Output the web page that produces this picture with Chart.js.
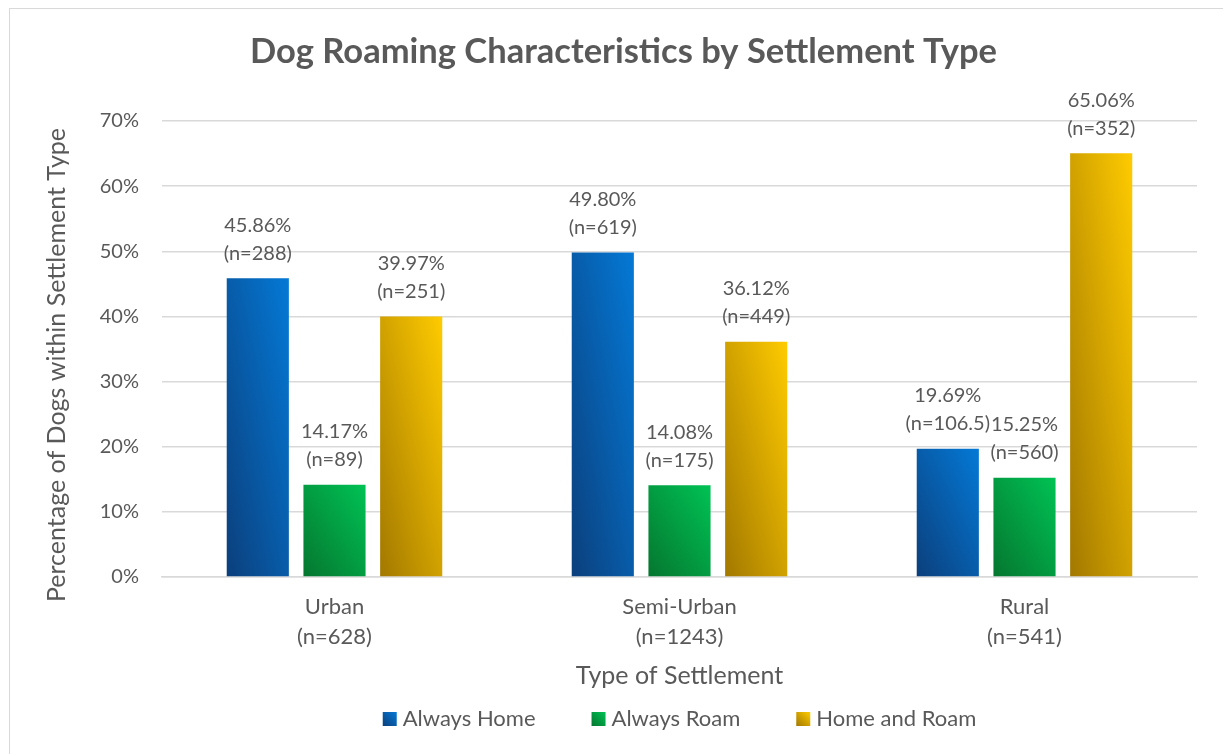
<!DOCTYPE html>
<html>
<head>
<meta charset="utf-8">
<script src="https://cdn.jsdelivr.net/npm/chart.js@4/dist/chart.umd.min.js"></script>
<style>
  html, body { margin: 0; padding: 0; background: #fff; overflow: hidden; }
  #wrap { position: relative; width: 1223px; height: 754px; }
  #frame { position: absolute; left: 9px; top: 8px; width: 1240px; height: 760px; border: 1px solid #d9d9d9; box-sizing: border-box; }
  canvas { position: absolute; left: 0; top: 0; }
</style>
</head>
<body>
<div id="wrap">
  <div id="frame"></div>
  <canvas id="chart" width="1223" height="754"></canvas>
</div>
<script>
const categoryNames = ['Urban', 'Semi-Urban', 'Rural'];
const categoryCounts = [628, 1243, 541];

const alwaysHome = [45.86, 49.80, 19.69];
const alwaysHomeN = [288, 619, 106.5];
const alwaysRoam = [14.17, 14.08, 15.25];
const alwaysRoamN = [89, 175, 560];
const homeAndRoam = [39.97, 36.12, 65.06];
const homeAndRoamN = [251, 449, 352];

const yMax = 70;
const yStep = 10;

const chartTitle = 'Dog Roaming Characteristics by Settlement Type';
const yTitle = 'Percentage of Dogs within Settlement Type';
const xTitle = 'Type of Settlement';

const TEXT = '#595959';
const FONT = 'Lato, Carlito, Calibri, sans-serif';
const CAT_PCT = 0.667;
const BAR_PCT = 0.81;

const BLUE = ['#0b3f7c', '#0479d6'];
const GREEN = ['#05762f', '#00c254'];
const GOLD = ['#a27800', '#ffcb00'];

// diagonal fill bottom-left -> top-right, scaled to the box like Excel does
function diagGradient(ctx, x0, base, w, h, stops) {
  const t = 2 / (1 / (w * w) + 1 / (h * h));
  const g = ctx.createLinearGradient(x0, base, x0 + t / w, base - t / h);
  g.addColorStop(0, stops[0]);
  g.addColorStop(1, stops[1]);
  return g;
}

function barGradient(stops) {
  return ctx => {
    const chart = ctx.chart;
    if (ctx.dataIndex === undefined || !chart.chartArea) return stops[1];
    const xs = chart.scales.x, ys = chart.scales.y;
    const nSets = chart.data.datasets.length;
    const catW = (xs.right - xs.left) / chart.data.labels.length;
    const slot = catW * CAT_PCT / nSets;
    const cx = xs.getPixelForValue(ctx.dataIndex) + (ctx.datasetIndex - (nSets - 1) / 2) * slot;
    const w = slot * BAR_PCT;
    const base = ys.getPixelForValue(0);
    const h = Math.max(1, base - ys.getPixelForValue(ctx.raw));
    return diagGradient(chart.ctx, cx - w / 2, base, w, h, stops);
  };
}

const barLabels = {
  id: 'barLabels',
  afterDatasetsDraw(chart) {
    const ctx = chart.ctx;
    ctx.save();
    ctx.font = '20px ' + FONT;
    ctx.fillStyle = TEXT;
    ctx.textAlign = 'center';
    ctx.textBaseline = 'middle';
    chart.data.datasets.forEach((ds, di) => {
      chart.getDatasetMeta(di).data.forEach((bar, i) => {
        ctx.fillText(ds.data[i].toFixed(2) + '%', bar.x, bar.y - 53);
        ctx.fillText('(n=' + ds.counts[i] + ')', bar.x, bar.y - 25);
      });
    });
    ctx.restore();
  }
};

// title, rotated y title and the legend row, placed like the Excel original
const decorations = {
  id: 'decorations',
  afterDraw(chart) {
    const ctx = chart.ctx;
    const area = chart.chartArea;
    ctx.save();
    ctx.fillStyle = TEXT;
    ctx.textBaseline = 'middle';

    ctx.textAlign = 'center';
    ctx.font = 'bold 34.5px ' + FONT;
    ctx.fillText(chartTitle, chart.width / 2 + 12, 52);

    ctx.save();
    ctx.translate(57, 365);
    ctx.rotate(-Math.PI / 2);
    ctx.font = '25px ' + FONT;
    ctx.fillText(yTitle, 0, 0);
    ctx.restore();

    ctx.font = '22px ' + FONT;
    ctx.textAlign = 'left';
    const box = 14, gap = 6, spacing = 56, y = 719;
    const items = chart.data.datasets.map(ds => ({ ds, tw: ctx.measureText(ds.label).width }));
    const total = items.reduce((s, it) => s + box + gap + it.tw, 0) + spacing * (items.length - 1);
    let x = (area.left + area.right) / 2 - total / 2;
    items.forEach(it => {
      ctx.fillStyle = diagGradient(ctx, x, y + box / 2, box, box, it.ds.stops);
      ctx.fillRect(x, y - box / 2, box, box);
      ctx.fillStyle = TEXT;
      ctx.fillText(it.ds.label, x + box + gap, y);
      x += box + gap + it.tw + spacing;
    });
    ctx.restore();
  }
};

new Chart(document.getElementById('chart'), {
  type: 'bar',
  data: {
    labels: categoryNames.map((c, i) => [c, '(n=' + categoryCounts[i] + ')']),
    datasets: [
      { label: 'Always Home', data: alwaysHome, counts: alwaysHomeN, stops: BLUE,
        backgroundColor: barGradient(BLUE) },
      { label: 'Always Roam', data: alwaysRoam, counts: alwaysRoamN, stops: GREEN,
        backgroundColor: barGradient(GREEN) },
      { label: 'Home and Roam', data: homeAndRoam, counts: homeAndRoamN, stops: GOLD,
        backgroundColor: barGradient(GOLD) },
    ],
  },
  options: {
    responsive: false,
    animation: false,
    categoryPercentage: CAT_PCT,
    barPercentage: BAR_PCT,
    layout: { padding: { left: 30, right: 26, top: 121, bottom: 63 } },
    plugins: {
      title: { display: false },
      legend: { display: false },
      tooltip: { enabled: false },
    },
    scales: {
      x: {
        grid: { display: false, drawTicks: false },
        border: { color: '#d9d9d9', width: 1.5 },
        ticks: { color: TEXT, font: { family: FONT, size: 22, lineHeight: 1.36 }, padding: 15 },
        title: {
          display: true,
          text: xTitle,
          color: TEXT,
          font: { family: FONT, size: 25 },
          padding: { top: 4, bottom: 0 },
        },
        afterFit(scale) { scale.height = 114; },
      },
      y: {
        min: 0,
        max: yMax,
        grid: { color: '#d9d9d9', lineWidth: 1.5, drawTicks: false },
        border: { display: false },
        ticks: {
          stepSize: yStep,
          color: TEXT,
          font: { family: FONT, size: 20 },
          padding: 23,
          callback: v => v + '%',
        },
        title: { display: false },
        afterFit(scale) { scale.width = 132; },
      },
    },
  },
  plugins: [barLabels, decorations],
});
</script>
</body>
</html>
